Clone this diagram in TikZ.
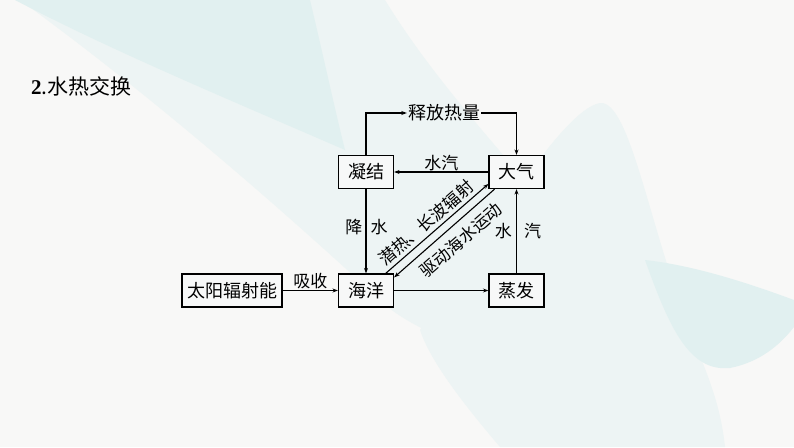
\documentclass[tikz,border=0pt]{standalone}
\usepackage{fontspec}
\setmainfont{Noto Sans CJK SC}
\newfontfamily\numfont{Liberation Serif}
\usetikzlibrary{arrows.meta}

\definecolor{bgcolor}{RGB}{248,248,247}
\definecolor{tealA}{RGB}{225,240,240}
\definecolor{tealB}{RGB}{237,244,244}
\definecolor{boxfill}{RGB}{247,248,248}

\begin{document}
\begin{tikzpicture}[x=1pt,y=-1pt,
box/.style={draw, line width=1.2pt, fill=boxfill, minimum width=55pt, minimum height=33pt, inner sep=1pt, font=\fontsize{18}{18}\selectfont},
lbl/.style={inner sep=1pt, font=\fontsize{17}{17}\selectfont},
link/.style={line width=1.1pt, -{Stealth[length=5.5pt,width=4pt]}}]
    % background
    \fill [bgcolor] (0,0) rectangle (794,447);
    \useasboundingbox (0,0) rectangle (794,447);
    \fill [tealB] (20,0) -- (385,0) .. controls (440,90) and (520,170) .. (560,224)
      .. controls (530,290) and (510,330) .. (497,357)
      .. controls (440,340) and (400,320) .. (380,300)
      .. controls (250,180) and (130,80) .. (20,0) -- cycle;
    \fill [tealA] (15,0) -- (310,0) .. controls (322,50) and (335,110) .. (345,150)
      .. controls (230,100) and (110,50) .. (15,0) -- cycle;
    \fill [tealB] (600,103) .. controls (630,100) and (650,230) .. (690,330)
      .. controls (705,370) and (720,400) .. (725,447) -- (500,447)
      .. controls (460,400) and (430,360) .. (420,330)
      .. controls (480,250) and (560,110) .. (600,103) -- cycle;
    \fill [tealA] (645,260) .. controls (670,330) and (690,372) .. (730,368)
      .. controls (760,362) and (780,345) .. (794,327) -- (794,300)
      .. controls (740,280) and (690,265) .. (645,260) -- cycle;

    \node [anchor=west, inner sep=0pt, font=\fontsize{21}{21}\selectfont] (title) at (31,86) {{\numfont\bfseries 2}.水热交换};

    \node [box] (ningjie) at (366,172) {凝结};
    \node [box] (daqi) at (516.5,172) {大气};
    \node [box] (haiyang) at (366,290.5) {海洋};
    \node [box] (zhengfa) at (516.5,290.5) {蒸发};
    \node [box, minimum width=100pt] (taiyang) at (232,290.5) {太阳辐射能};
    \node [lbl, font=\fontsize{18}{18}\selectfont] (shifang) at (444,113) {释放热量};
    \node [lbl, rotate=41] (qianre) at (426,223) {潜热、长波辐射};
    \node [lbl, rotate=41] (qudong) at (461,240) {驱动海水运动};

    \draw [link] (ningjie.north) |- (shifang.west);
    \draw [link] (shifang.east) -| (daqi.north);
    \draw [link] (daqi.west) -- node [lbl, above] {水汽} (ningjie.east);
    \draw [link] (ningjie.south) -- node [lbl, pos=0.45, left=2pt] {降}
      node [lbl, pos=0.45, right=3pt] {水} (haiyang.north);
    \draw [link] (zhengfa.north) -- node [lbl, left=3pt] {水}
      node [lbl, right=6pt] {汽} (daqi.south);
    \draw [link] (haiyang.east) -- (zhengfa.west);
    \draw [link] (taiyang.east) -- node [lbl, above] {吸收} (haiyang.west);
    \draw [link] (haiyang.41) -- (daqi.203);
    \draw [link] (daqi.218) -- (haiyang.25);
\end{tikzpicture}
\end{document}
